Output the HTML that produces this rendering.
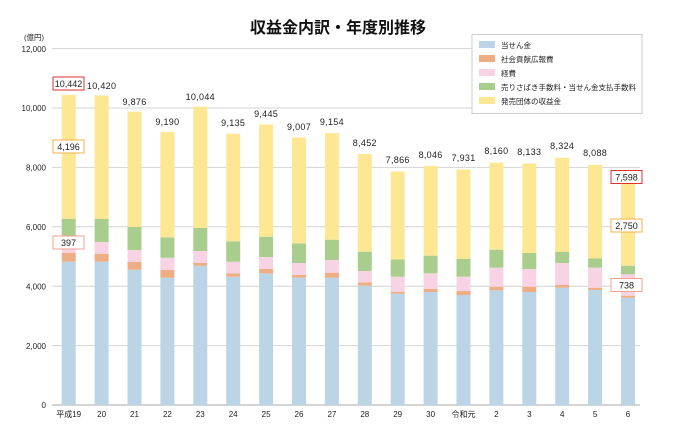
<!DOCTYPE html>
<html><head><meta charset="utf-8"><style>
html,body{margin:0;padding:0;background:#fff;}
svg{display:block;font-family:"Liberation Sans","Noto Sans CJK JP",sans-serif;}
</style></head><body>
<svg width="677" height="430" viewBox="0 0 677 430" xmlns="http://www.w3.org/2000/svg">
<text x="338" y="33" text-anchor="middle" font-size="16" font-weight="bold" fill="#111">収益金内訳・年度別推移</text>
<text x="34" y="40" text-anchor="middle" font-size="7.5" fill="#222">(億円)</text>
<g stroke="#d4d4d4" stroke-width="1">
<line x1="52" y1="48.6" x2="640" y2="48.6"/>
<line x1="52" y1="108" x2="640" y2="108"/>
<line x1="52" y1="167.4" x2="640" y2="167.4"/>
<line x1="52" y1="226.8" x2="640" y2="226.8"/>
<line x1="52" y1="286.2" x2="640" y2="286.2"/>
<line x1="52" y1="345.6" x2="640" y2="345.6"/>
</g>
<line x1="52" y1="405" x2="640" y2="405" stroke="#aaa" stroke-width="1"/>
<g font-size="8" fill="#222" text-anchor="end">
<text x="46" y="52">12,000</text><text x="46" y="111">10,000</text><text x="46" y="170.5">8,000</text>
<text x="46" y="230">6,000</text><text x="46" y="289.5">4,000</text><text x="46" y="349">2,000</text><text x="46" y="408">0</text>
</g>
<g transform="translate(0,405) scale(1,-0.0297)">
<g fill="#bcd5e6">
<rect x="61.7" y="0" width="14" height="4825"/><rect x="94.6" y="0" width="14" height="4825"/><rect x="127.5" y="0" width="14" height="4556"/><rect x="160.4" y="0" width="14" height="4286"/><rect x="193.3" y="0" width="14" height="4690"/><rect x="226.2" y="0" width="14" height="4320"/><rect x="259.1" y="0" width="14" height="4433"/><rect x="292" y="0" width="14" height="4287"/><rect x="324.9" y="0" width="14" height="4287"/><rect x="357.8" y="0" width="14" height="4018"/><rect x="390.7" y="0" width="14" height="3748"/><rect x="423.6" y="0" width="14" height="3805"/><rect x="456.5" y="0" width="14" height="3704"/><rect x="489.4" y="0" width="14" height="3861"/><rect x="522.3" y="0" width="14" height="3805"/><rect x="555.2" y="0" width="14" height="3950"/><rect x="588.1" y="0" width="14" height="3872"/><rect x="621" y="0" width="14" height="3613"/>
</g>
<g fill="#eeae83">
<rect x="61.7" y="4825" width="14" height="303"/><rect x="94.6" y="4825" width="14" height="259"/><rect x="127.5" y="4556" width="14" height="259"/><rect x="160.4" y="4286" width="14" height="259"/><rect x="193.3" y="4690" width="14" height="91"/><rect x="226.2" y="4320" width="14" height="113"/><rect x="259.1" y="4433" width="14" height="146"/><rect x="292" y="4287" width="14" height="90"/><rect x="324.9" y="4287" width="14" height="168"/><rect x="357.8" y="4018" width="14" height="112"/><rect x="390.7" y="3748" width="14" height="67"/><rect x="423.6" y="3805" width="14" height="101"/><rect x="456.5" y="3704" width="14" height="134"/><rect x="489.4" y="3861" width="14" height="123"/><rect x="522.3" y="3805" width="14" height="179"/><rect x="555.2" y="3950" width="14" height="90"/><rect x="588.1" y="3872" width="14" height="78"/><rect x="621" y="3613" width="14" height="67"/>
</g>
<g fill="#f8d3e3">
<rect x="61.7" y="5128" width="14" height="158"/><rect x="94.6" y="5084" width="14" height="404"/><rect x="127.5" y="4815" width="14" height="404"/><rect x="160.4" y="4545" width="14" height="415"/><rect x="193.3" y="4781" width="14" height="404"/><rect x="226.2" y="4433" width="14" height="392"/><rect x="259.1" y="4579" width="14" height="404"/><rect x="292" y="4377" width="14" height="404"/><rect x="324.9" y="4455" width="14" height="427"/><rect x="357.8" y="4130" width="14" height="382"/><rect x="390.7" y="3815" width="14" height="505"/><rect x="423.6" y="3906" width="14" height="527"/><rect x="456.5" y="3838" width="14" height="482"/><rect x="489.4" y="3984" width="14" height="640"/><rect x="522.3" y="3984" width="14" height="595"/><rect x="555.2" y="4040" width="14" height="741"/><rect x="588.1" y="3950" width="14" height="674"/><rect x="621" y="3680" width="14" height="720"/>
</g>
<g fill="#a8cd8c">
<rect x="61.7" y="5286" width="14" height="987"/><rect x="94.6" y="5488" width="14" height="774"/><rect x="127.5" y="5219" width="14" height="774"/><rect x="160.4" y="4960" width="14" height="686"/><rect x="193.3" y="5185" width="14" height="775"/><rect x="226.2" y="4825" width="14" height="687"/><rect x="259.1" y="4983" width="14" height="684"/><rect x="292" y="4781" width="14" height="663"/><rect x="324.9" y="4882" width="14" height="684"/><rect x="357.8" y="4512" width="14" height="650"/><rect x="390.7" y="4320" width="14" height="585"/><rect x="423.6" y="4433" width="14" height="595"/><rect x="456.5" y="4320" width="14" height="596"/><rect x="489.4" y="4624" width="14" height="606"/><rect x="522.3" y="4579" width="14" height="539"/><rect x="555.2" y="4781" width="14" height="381"/><rect x="588.1" y="4624" width="14" height="315"/><rect x="621" y="4400" width="14" height="290"/>
</g>
<g fill="#fde792">
<rect x="61.7" y="6273" width="14" height="4169"/><rect x="94.6" y="6262" width="14" height="4158"/><rect x="127.5" y="5993" width="14" height="3883"/><rect x="160.4" y="5646" width="14" height="3544"/><rect x="193.3" y="5960" width="14" height="4084"/><rect x="226.2" y="5512" width="14" height="3623"/><rect x="259.1" y="5667" width="14" height="3778"/><rect x="292" y="5444" width="14" height="3563"/><rect x="324.9" y="5566" width="14" height="3588"/><rect x="357.8" y="5162" width="14" height="3290"/><rect x="390.7" y="4905" width="14" height="2961"/><rect x="423.6" y="5028" width="14" height="3018"/><rect x="456.5" y="4916" width="14" height="3015"/><rect x="489.4" y="5230" width="14" height="2930"/><rect x="522.3" y="5118" width="14" height="3015"/><rect x="555.2" y="5162" width="14" height="3162"/><rect x="588.1" y="4939" width="14" height="3149"/><rect x="621" y="4690" width="14" height="2908"/>
</g>
</g>
<g font-size="9" fill="#222" text-anchor="middle" letter-spacing="0.3">
<text x="101.6" y="89">10,420</text><text x="134.5" y="105">9,876</text><text x="167.4" y="125">9,190</text><text x="200.3" y="100">10,044</text><text x="233.2" y="126">9,135</text><text x="266.1" y="117">9,445</text><text x="299" y="130">9,007</text><text x="331.9" y="125">9,154</text><text x="364.8" y="146">8,452</text><text x="397.7" y="163">7,866</text><text x="430.6" y="158">8,046</text><text x="463.5" y="161">7,931</text><text x="496.4" y="154">8,160</text><text x="529.3" y="155">8,133</text><text x="562.2" y="149">8,324</text><text x="595.1" y="156">8,088</text>
</g>
<g font-size="9" fill="#222" text-anchor="middle">
<rect x="53" y="77" width="31" height="13" fill="#fff" stroke="#e03030"/><text x="68.5" y="87">10,442</text>
<rect x="53" y="140" width="31" height="13" fill="#fff" stroke="#f3b04a"/><text x="68.5" y="150">4,196</text>
<rect x="53" y="236" width="31" height="13" fill="#fff" stroke="#f0a090"/><text x="68.5" y="246">397</text>
<rect x="611" y="170.5" width="31" height="13" fill="#fff" stroke="#e03030"/><text x="626.5" y="180.5">7,598</text>
<rect x="611" y="219" width="31" height="13" fill="#fff" stroke="#f3b04a"/><text x="626.5" y="229">2,750</text>
<rect x="611" y="278.5" width="31" height="13" fill="#fff" stroke="#f0a090"/><text x="626.5" y="288.5">738</text>
</g>
<g font-size="8" fill="#222" text-anchor="middle">
<text x="68.7" y="417">平成19</text><text x="101.6" y="417">20</text><text x="134.5" y="417">21</text><text x="167.4" y="417">22</text><text x="200.3" y="417">23</text><text x="233.2" y="417">24</text><text x="266.1" y="417">25</text><text x="299" y="417">26</text><text x="331.9" y="417">27</text><text x="364.8" y="417">28</text><text x="397.7" y="417">29</text><text x="430.6" y="417">30</text><text x="463.5" y="417">令和元</text><text x="496.4" y="417">2</text><text x="529.3" y="417">3</text><text x="562.2" y="417">4</text><text x="595.1" y="417">5</text><text x="628" y="417">6</text>
</g>
<rect x="472" y="34.5" width="170" height="79" fill="#fff" stroke="#ccc"/>
<g font-size="7.5" fill="#222">
<rect x="479" y="41" width="16" height="7" fill="#bcd5e6"/><text x="501" y="48">当せん金</text>
<rect x="479" y="55" width="16" height="7" fill="#eeae83"/><text x="501" y="62">社会貢献広報費</text>
<rect x="479" y="69" width="16" height="7" fill="#f8d3e3"/><text x="501" y="76">経費</text>
<rect x="479" y="83" width="16" height="7" fill="#a8cd8c"/><text x="501" y="90">売りさばき手数料・当せん金支払手数料</text>
<rect x="479" y="97" width="16" height="7" fill="#fde792"/><text x="501" y="104">発売団体の収益金</text>
</g>
</svg>
</body></html>
